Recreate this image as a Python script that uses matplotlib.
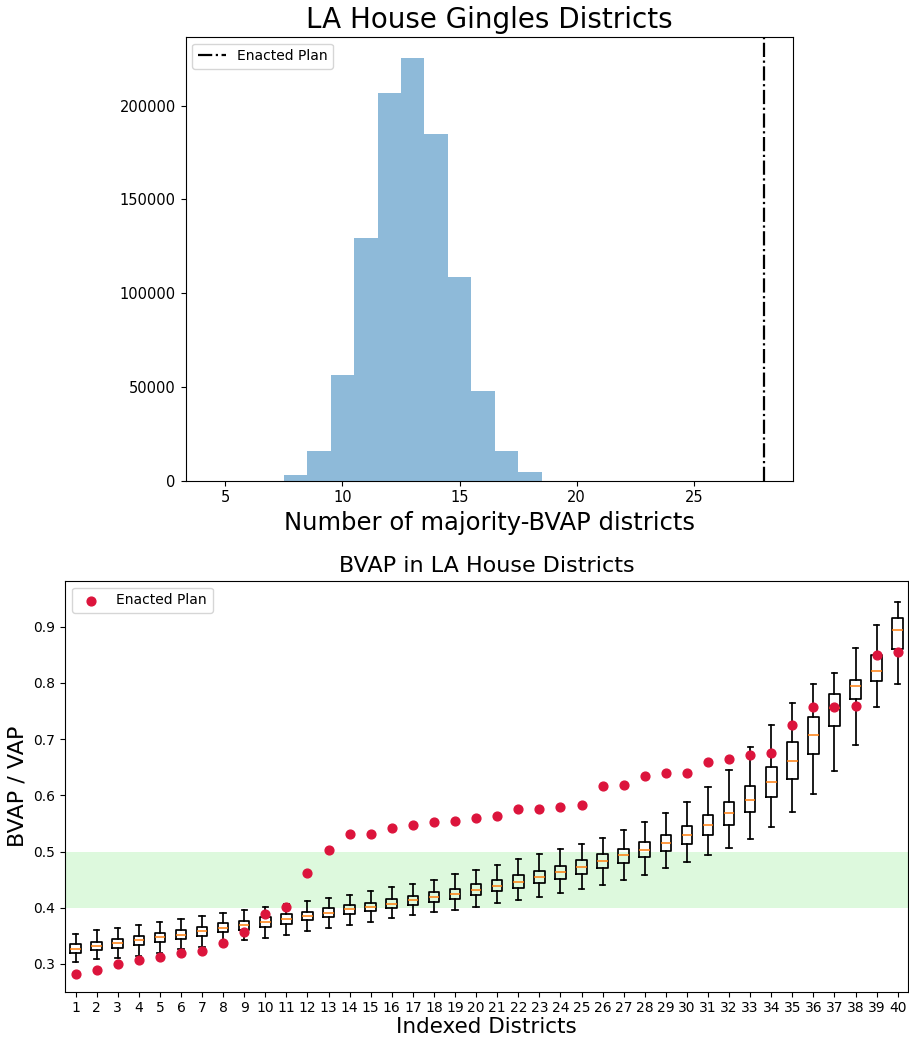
import matplotlib
matplotlib.use("Agg")
import matplotlib.pyplot as plt

# ---------------- data ----------------
# Top: histogram of number of majority-BVAP districts (bin centers and counts)
hist_centers = [8, 9, 10, 11, 12, 13, 14, 15, 16, 17, 18]
hist_counts = [2850, 15800, 56400, 129400, 206600, 225400, 184900, 108500, 47900, 16000, 4600]
enacted_majority = 28

# Bottom: BVAP share box statistics per indexed district (1..40)
districts = list(range(1, 41))
whis_lo = [0.304, 0.308, 0.311, 0.315, 0.320, 0.326, 0.330, 0.336, 0.342, 0.346,
           0.352, 0.358, 0.364, 0.370, 0.375, 0.381, 0.387, 0.392, 0.396, 0.402,
           0.408, 0.413, 0.419, 0.426, 0.434, 0.441, 0.450, 0.459, 0.470, 0.482,
           0.494, 0.507, 0.522, 0.544, 0.570, 0.603, 0.643, 0.689, 0.758, 0.799]
q1 = [0.320, 0.324, 0.329, 0.334, 0.339, 0.345, 0.349, 0.356, 0.361, 0.366,
      0.371, 0.378, 0.383, 0.388, 0.394, 0.400, 0.404, 0.410, 0.415, 0.422,
      0.429, 0.436, 0.444, 0.451, 0.460, 0.470, 0.480, 0.490, 0.501, 0.513,
      0.529, 0.548, 0.570, 0.597, 0.630, 0.674, 0.724, 0.771, 0.803, 0.861]
medians = [0.327, 0.332, 0.337, 0.342, 0.348, 0.352, 0.358, 0.364, 0.369, 0.375,
           0.380, 0.386, 0.391, 0.397, 0.402, 0.407, 0.413, 0.419, 0.425, 0.431,
           0.439, 0.446, 0.455, 0.464, 0.473, 0.483, 0.494, 0.503, 0.515, 0.529,
           0.547, 0.568, 0.592, 0.623, 0.662, 0.708, 0.755, 0.794, 0.821, 0.894]
q3 = [0.335, 0.339, 0.345, 0.349, 0.355, 0.360, 0.366, 0.372, 0.377, 0.383,
      0.388, 0.393, 0.399, 0.404, 0.409, 0.415, 0.421, 0.428, 0.434, 0.442,
      0.450, 0.458, 0.466, 0.475, 0.485, 0.495, 0.505, 0.517, 0.529, 0.545,
      0.565, 0.588, 0.616, 0.650, 0.695, 0.740, 0.780, 0.806, 0.850, 0.916]
whis_hi = [0.353, 0.360, 0.364, 0.370, 0.375, 0.380, 0.386, 0.391, 0.396, 0.401,
           0.407, 0.412, 0.417, 0.423, 0.429, 0.437, 0.443, 0.450, 0.460, 0.468,
           0.476, 0.487, 0.496, 0.505, 0.514, 0.525, 0.539, 0.553, 0.569, 0.588,
           0.615, 0.646, 0.686, 0.725, 0.764, 0.798, 0.818, 0.862, 0.904, 0.944]
enacted_bvap = [0.282, 0.289, 0.300, 0.307, 0.313, 0.319, 0.323, 0.338, 0.356, 0.389,
                0.402, 0.461, 0.502, 0.532, 0.532, 0.542, 0.548, 0.552, 0.555, 0.559,
                0.563, 0.575, 0.575, 0.580, 0.582, 0.616, 0.618, 0.634, 0.639, 0.639,
                0.660, 0.664, 0.671, 0.676, 0.725, 0.757, 0.758, 0.759, 0.849, 0.855]
band_low, band_high = 0.4, 0.5

# ---------------- figure ----------------
plt.rcParams['font.family'] = ['DejaVu Sans']

fig = plt.figure(figsize=(9.09, 10.40), dpi=100)

# Top histogram
ax1 = fig.add_axes([0.2041, 0.5378, 0.6686, 0.4269])
edges = [c - 0.5 for c in hist_centers] + [hist_centers[-1] + 0.5]
ax1.hist(hist_centers, bins=edges, weights=hist_counts, color='C0', alpha=0.5)
ax1.axvline(enacted_majority, color='black', linestyle='-.', linewidth=1.6,
            label='Enacted Plan')
ax1.set_xlim(3.3, 29.25)
ax1.set_title('LA House Gingles Districts', fontsize=20)
ax1.set_xlabel('Number of majority-BVAP districts', fontsize=17.5)
ax1.tick_params(labelsize=10.5)
ax1.legend(loc='upper left')

# Bottom boxplot
ax2 = fig.add_axes([0.0715, 0.0464, 0.9277, 0.3952])
stats = []
for i in range(len(districts)):
    stats.append(dict(whislo=whis_lo[i], q1=q1[i], med=medians[i], q3=q3[i],
                      whishi=whis_hi[i], fliers=[]))
lw = 1.25
ax2.bxp(stats, positions=districts, widths=0.5, showfliers=False,
        boxprops=dict(linewidth=lw, color='black'),
        whiskerprops=dict(linewidth=lw, color='black'),
        capprops=dict(linewidth=lw, color='black'),
        medianprops=dict(linewidth=1.1, color='C1'))
ax2.axhspan(band_low, band_high, color='lightgreen', alpha=0.3, linewidth=0)
ax2.scatter(districts, enacted_bvap, color='crimson', s=40, zorder=5,
            label='Enacted Plan')
ax2.set_xlim(0.5, 40.5)
ax2.set_ylim(0.2505, 0.982)
ax2.set_xticks(districts)
ax2.set_xticklabels([str(d) for d in districts])
ax2.tick_params(labelsize=10)
ax2.set_title('BVAP in LA House Districts', fontsize=16)
ax2.set_xlabel('Indexed Districts', fontsize=15.5, labelpad=1)
ax2.set_ylabel('BVAP / VAP', fontsize=16)
ax2.legend(loc='upper left')

fig.savefig('out.png', dpi=100)
